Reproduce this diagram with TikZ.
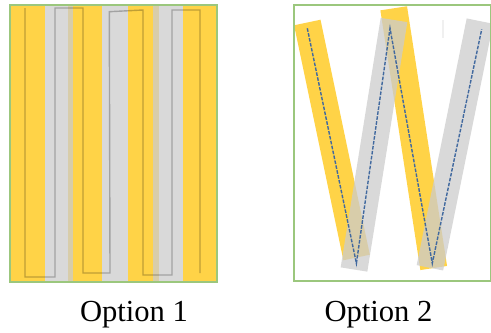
\documentclass[tikz,border=0pt]{standalone}
\usepackage{fontspec}
\setmainfont{Liberation Serif}
\usepackage{xcolor}
\usepackage{tikz}
\usetikzlibrary{positioning}
\definecolor{StripeGold}{HTML}{FFD347}
\definecolor{StripeGrey}{HTML}{CCCCCC}
\definecolor{FrameGreen}{HTML}{9BC77D}
\definecolor{PathBlue}{HTML}{41699F}

\begin{document}
\begin{tikzpicture}[
  x=0.5pt, y=-0.5pt,
  goldstripe/.style={fill=StripeGold},
  greystripe/.style={fill=StripeGrey, fill opacity=0.75},
  goldbar/.style={draw=StripeGold, line width=13.5pt},
  greybar/.style={draw=StripeGrey, draw opacity=0.75, line width=13.5pt},
  seam/.style={draw=black, draw opacity=0.25, line width=0.7pt},
  zigzag/.style={draw=PathBlue, dash pattern=on 1.8pt off 0.7pt, line width=0.7pt},
  frame/.style={draw=FrameGreen, line width=0.6pt},
  caption/.style={font=\fontsize{15.3}{18}\selectfont, inner sep=0pt, anchor=base}
  ]
  \useasboundingbox (0,0) rectangle (491,332);
  % Option 1: straight stripes
  \fill[goldstripe] (10,5) rectangle (45,282);
  \fill[goldstripe] (68.3,5) rectangle (101.7,282);
  \fill[goldstripe] (128.3,5) rectangle (159.3,282);
  \fill[goldstripe] (182.7,5) rectangle (217,282);
  \fill[greystripe] (45,5) rectangle (73.3,282);
  \fill[greystripe] (101.7,5) rectangle (128.3,282);
  \fill[greystripe] (153.3,5) rectangle (182.7,282);
  \draw[seam] (25,8) -- (25,277) -- (55,277) -- (55,8) -- (83,8) -- (83,273)
    -- (110,273) -- (109.3,11.7) -- (143,10) -- (143,275) -- (172,275)
    -- (172,10) -- (200,10) -- (200,273);
  \draw[frame] (10,5) rectangle (217,282);
  % Option 2: slanted stripes
  \draw[goldbar] (307.3,22.5) -- (356.6,257.5);
  \draw[goldbar] (393.7,8.3) -- (433.7,268);
  \draw[greybar] (394,20) -- (354,269.5);
  \draw[greybar] (479.9,21.1) -- (429.9,267.8);
  \draw[zigzag] (307.3,28.3) -- (356.4,263.3) -- (390,28.3) -- (432.3,263.3) -- (481.7,29.3);
  \draw[gray!12, line width=0.6pt] (443,20) -- (443,38);
  \draw[frame] (294,5) rectangle (490.5,281);
  % Captions
  \node[caption] (opt1) at (134,321.7) {Option 1};
  \node[caption] (opt2) at (378.5,321.7) {Option 2};
\end{tikzpicture}
\end{document}
